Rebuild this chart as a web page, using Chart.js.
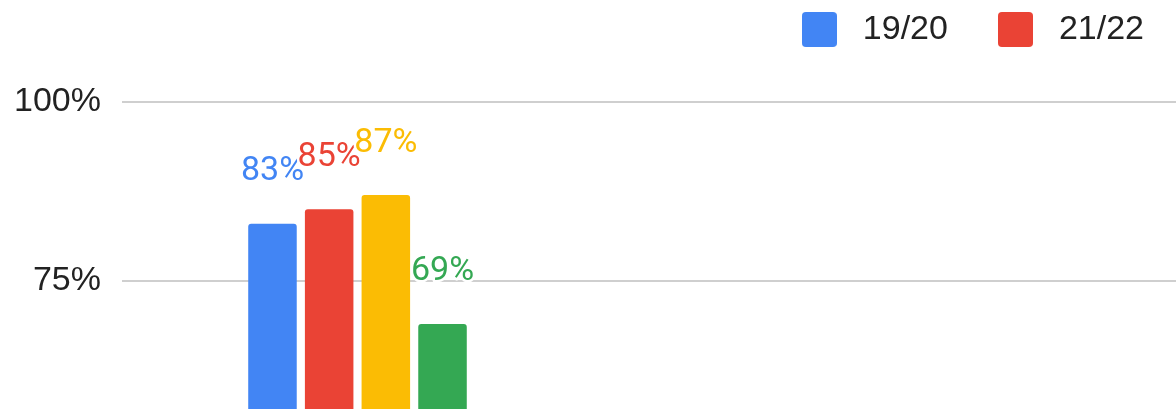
<!DOCTYPE html>
<html>
<head>
<meta charset="utf-8">
<script src="https://cdn.jsdelivr.net/npm/chart.js@4/dist/chart.umd.min.js"></script>
<style>
  html, body { margin: 0; padding: 0; background: #fff; overflow: hidden; }
  #wrap { width: 1176px; height: 409px; }
</style>
</head>
<body>
<div id="wrap"><canvas id="c" width="1176" height="409"></canvas></div>
<script>
// ---- data ----
const categories = [''];
const seriesNames = ['19/20', '21/22', 'Series 3', 'Series 4'];
const seriesColors = ['#4285F4', '#EA4335', '#FBBC04', '#34A853'];
const blueValues = [83];
const redValues = [85];
const yellowValues = [87];
const greenValues = [69];
const yTickValues = [75, 100];
const legendShown = ['19/20', '21/22'];

const seriesValues = [blueValues, redValues, yellowValues, greenValues];

function swatch(color) {
  const c = document.createElement('canvas');
  c.width = 35; c.height = 35;
  const x = c.getContext('2d');
  x.fillStyle = color;
  x.beginPath();
  x.roundRect(0, 0, 35, 35, 4);
  x.fill();
  return c;
}

const valueLabels = {
  id: 'valueLabels',
  afterDatasetsDraw(chart) {
    const ctx = chart.ctx;
    chart.data.datasets.forEach((ds, di) => {
      const meta = chart.getDatasetMeta(di);
      meta.data.forEach((bar, i) => {
        const text = ds.data[i].y + '%';
        ctx.save();
        ctx.font = '34px Roboto';
        ctx.textAlign = 'center';
        ctx.textBaseline = 'middle';
        ctx.lineJoin = 'round';
        ctx.lineWidth = 5;
        ctx.strokeStyle = '#ffffff';
        ctx.strokeText(text, bar.x, bar.y - 52);
        ctx.fillStyle = ds.backgroundColor;
        ctx.fillText(text, bar.x, bar.y - 52);
        ctx.restore();
      });
    });
  }
};

const datasets = seriesNames.map((name, si) => ({
  label: name,
  data: categories.map((c, i) => ({ x: i, y: seriesValues[si][i] })),
  backgroundColor: seriesColors[si],
  borderRadius: 3,
  borderSkipped: 'start',
  categoryPercentage: 0.2151,
  barPercentage: 0.856
}));

new Chart(document.getElementById('c'), {
  type: 'bar',
  data: { datasets },
  options: {
    responsive: false,
    animation: false,
    layout: { padding: { top: -28.5, right: -9, left: 0, bottom: 0 } },
    plugins: {
      tooltip: { enabled: false },
      legend: {
        position: 'top',
        align: 'end',
        labels: {
          usePointStyle: true,
          pointStyleWidth: 53,
          boxHeight: 34,
          padding: 41,
          color: '#222222',
          font: { family: '"Liberation Sans", Arial, sans-serif', size: 34 },
          generateLabels(chart) {
            const items = Chart.defaults.plugins.legend.labels.generateLabels(chart);
            return items
              .filter(it => legendShown.includes(it.text))
              .map(it => Object.assign(it, { pointStyle: swatch(seriesColors[it.datasetIndex]) }));
          }
        }
      }
    },
    scales: {
      x: {
        type: 'linear',
        display: false,
        offset: false,
        min: -0.5,
        max: 1.7378,
        ticks: { display: false },
        afterBuildTicks(axis) { axis.ticks = [{ value: axis.min }, { value: axis.max }]; }
      },
      y: {
        min: 57.12,
        max: 106.35,
        border: { display: false },
        grid: { color: '#cfcfcf', lineWidth: 2, drawTicks: false },
        ticks: {
          padding: 21,
          color: '#222222',
          font: { family: '"Liberation Sans", Arial, sans-serif', size: 34 },
          callback: v => v + '%'
        },
        afterBuildTicks(axis) { axis.ticks = yTickValues.map(v => ({ value: v })); },
        afterFit(axis) { axis.width = 122; axis.paddingTop = 0; axis.paddingBottom = 0; }
      }
    }
  },
  plugins: [valueLabels]
});
</script>
</body>
</html>
